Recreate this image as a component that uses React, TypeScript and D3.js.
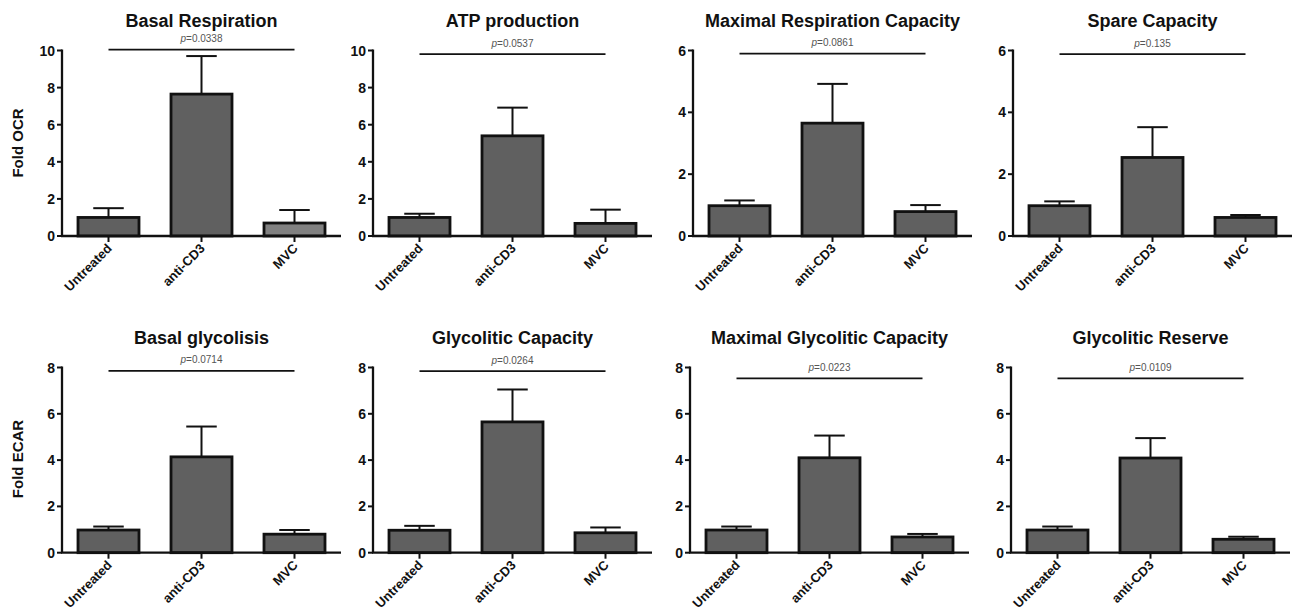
import React from "react";
import * as d3 from "d3";

const categories = ["Untreated", "anti-CD3", "MVC"];
const titles = [
  "Basal Respiration",
  "ATP production",
  "Maximal Respiration Capacity",
  "Spare Capacity",
  "Basal glycolisis",
  "Glycolitic Capacity",
  "Maximal Glycolitic Capacity",
  "Glycolitic Reserve",
];
const means = [
  [1.0, 7.65, 0.7],
  [1.0, 5.4, 0.68],
  [0.98, 3.65, 0.79],
  [0.98, 2.54, 0.6],
  [0.98, 4.14, 0.8],
  [0.97, 5.65, 0.86],
  [0.98, 4.1, 0.68],
  [0.98, 4.09, 0.58],
];
const errors = [
  [0.5, 2.05, 0.7],
  [0.2, 1.52, 0.74],
  [0.17, 1.27, 0.21],
  [0.14, 0.98, 0.08],
  [0.15, 1.31, 0.18],
  [0.19, 1.4, 0.23],
  [0.15, 0.96, 0.13],
  [0.15, 0.86, 0.11],
];
const yMax = [10, 10, 6, 6, 8, 8, 8, 8];
const pValues = ["0.0338", "0.0537", "0.0861", "0.135", "0.0714", "0.0264", "0.0223", "0.0109"];
const sigLevels = [10.05, 9.8, 5.9, 5.88, 7.85, 7.84, 7.53, 7.53];
const yLabels = ["Fold OCR", "Fold ECAR"];

const W = 1295;
const H = 614;
const axisXs = [62, 373, 693, 1013, 62, 373, 690, 1011];
const rowZero = [236, 552.7];
const rowTop = [50.5, 367.5];
const AX_LEN = 279;
const BAR_W = 61;
const FONT = "Arial, 'Liberation Sans', Helvetica, sans-serif";

function Panel({ i }: { i: number }) {
  const row = i < 4 ? 0 : 1;
  const ax = axisXs[i];
  const x = d3.scalePoint<string>().domain(categories).range([ax, ax + AX_LEN]).padding(0.5);
  const y = d3.scaleLinear().domain([0, yMax[i]]).range([rowZero[row], rowTop[row]]);
  const ticks = d3.range(0, yMax[i] + 0.001, 2);
  const midX = x(categories[1])!;
  const sigY = y(sigLevels[i]);
  const first = x(categories[0])!;
  const last = x(categories[2])!;
  return (
    <g>
      <text x={midX} y={row === 0 ? 27 : 343.5} textAnchor="middle" fontFamily={FONT} fontWeight="bold" fontSize={18} fill="#111">
        {titles[i]}
      </text>
      <text x={midX} y={sigY - 7.5} textAnchor="middle" fontFamily={FONT} fontSize={10} fill="#555">
        <tspan fontStyle="italic">p</tspan>={pValues[i]}
      </text>
      <line x1={first} x2={last} y1={sigY} y2={sigY} stroke="#111" strokeWidth={1.8} />
      {categories.map((c, j) => {
        const cx = x(c)!;
        const top = y(means[i][j]);
        const et = y(means[i][j] + errors[i][j]);
        const fill = i === 0 && j === 2 ? "#818181" : "#606060";
        return (
          <g key={c}>
            <line x1={cx} x2={cx} y1={top} y2={et} stroke="#111" strokeWidth={2} />
            <line x1={cx - BAR_W / 4} x2={cx + BAR_W / 4} y1={et} y2={et} stroke="#111" strokeWidth={2} />
            <rect x={cx - BAR_W / 2} y={top} width={BAR_W} height={y(0) - top} fill={fill} stroke="#111" strokeWidth={2.8} />
          </g>
        );
      })}
      <line x1={ax} x2={ax} y1={y(yMax[i]) - 1} y2={y(0)} stroke="#111" strokeWidth={2.3} />
      {ticks.map((t) => (
        <g key={t}>
          <line x1={ax - 5} x2={ax} y1={y(t)} y2={y(t)} stroke="#111" strokeWidth={2} />
          <text x={ax - 7} y={y(t)} dy="0.36em" textAnchor="end" fontFamily={FONT} fontWeight="bold" fontSize={14} fill="#111">
            {t}
          </text>
        </g>
      ))}
      <line x1={ax - 1} x2={ax + AX_LEN} y1={y(0)} y2={y(0)} stroke="#111" strokeWidth={2.3} />
      {categories.map((c) => {
        const cx = x(c)!;
        return (
          <g key={c}>
            <line x1={cx} x2={cx} y1={y(0)} y2={y(0) + 6} stroke="#111" strokeWidth={2} />
            <text
              transform={`translate(${cx + 1},${y(0) + 10}) rotate(-45)`}
              textAnchor="end"
              fontFamily={FONT}
              fontWeight="bold"
              fontSize={13}
              fill="#111"
              dy="0.35em"
            >
              {c}
            </text>
          </g>
        );
      })}
    </g>
  );
}

export default function App() {
  return (
    <svg width={W} height={H} style={{ position: "absolute", left: 0, top: 0, background: "#fff" }}>
      <rect width={W} height={H} fill="#fff" />
      {titles.map((_, i) => (
        <Panel key={i} i={i} />
      ))}
      <text transform={`translate(23,143) rotate(-90)`} textAnchor="middle" fontFamily={FONT} fontWeight="bold" fontSize={15} fill="#111">
        {yLabels[0]}
      </text>
      <text transform={`translate(23,459) rotate(-90)`} textAnchor="middle" fontFamily={FONT} fontWeight="bold" fontSize={15} fill="#111">
        {yLabels[1]}
      </text>
    </svg>
  );
}
